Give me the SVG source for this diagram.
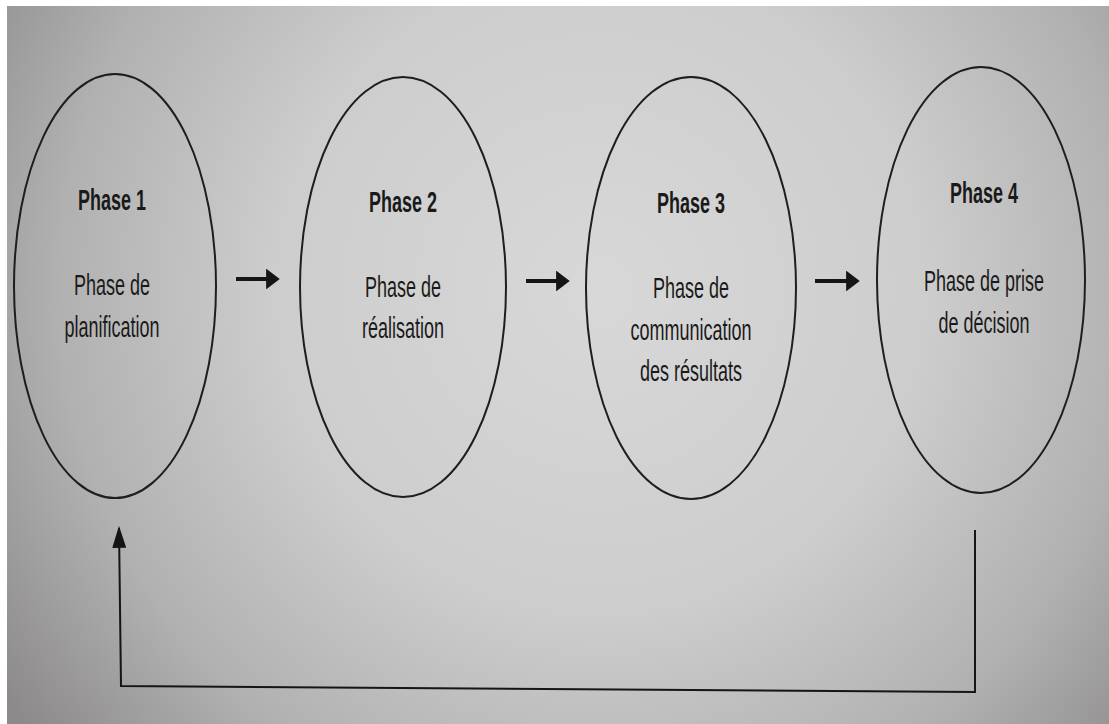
<svg xmlns="http://www.w3.org/2000/svg" width="1109" height="724" viewBox="0 0 1109 724">
  <defs>
    <radialGradient id="bg" gradientUnits="userSpaceOnUse" cx="600" cy="290" r="720">
      <stop offset="0" stop-color="#d8d8d8"/>
      <stop offset="0.45" stop-color="#cdcdcd"/>
      <stop offset="0.75" stop-color="#b2b1b1"/>
      <stop offset="1" stop-color="#8c8a8a"/>
    </radialGradient>
    <marker id="head" viewBox="0 0 10 10" refX="8" refY="5" markerWidth="3.4" markerHeight="5.2" orient="auto" markerUnits="strokeWidth" preserveAspectRatio="none">
      <path d="M0,0 L10,5 L0,10 Z" fill="#151515"/>
    </marker>
    <marker id="headUp" viewBox="0 0 10 10" refX="9" refY="5" markerWidth="11" markerHeight="7" orient="auto" markerUnits="strokeWidth" preserveAspectRatio="none">
      <path d="M0,0 L10,5 L0,10 Z" fill="#151515"/>
    </marker>
  </defs>
  <style>
    .node ellipse { fill: none; stroke: #1e1e1e; stroke-width: 2; }
    .t { font-family: "Liberation Sans", Arial, sans-serif; font-size: 30px; fill: #1a1a1a; text-anchor: middle; }
    .b { font-weight: bold; }
    .conn { fill: none; stroke: #151515; }
  </style>
  <rect x="0" y="0" width="1109" height="724" fill="#ffffff"/>
  <rect x="7" y="6" width="1102" height="718" fill="url(#bg)"/>

  <g id="phase1" class="node">
    <ellipse cx="115" cy="286" rx="101" ry="212"/>
    <g transform="translate(112,0) scale(0.6,1)">
      <text class="t b" x="0" y="210">Phase 1</text>
      <text class="t" x="0" y="295">Phase de</text>
      <text class="t" x="0" y="337">planification</text>
    </g>
  </g>

  <g id="phase2" class="node">
    <ellipse cx="403" cy="287" rx="103" ry="210"/>
    <g transform="translate(403,0) scale(0.6,1)">
      <text class="t b" x="0" y="212">Phase 2</text>
      <text class="t" x="0" y="297">Phase de</text>
      <text class="t" x="0" y="338">réalisation</text>
    </g>
  </g>

  <g id="phase3" class="node">
    <ellipse cx="691" cy="288" rx="105" ry="211"/>
    <g transform="translate(691,0) scale(0.6,1)">
      <text class="t b" x="0" y="213">Phase 3</text>
      <text class="t" x="0" y="298">Phase de</text>
      <text class="t" x="0" y="340">communication</text>
      <text class="t" x="0" y="381">des résultats</text>
    </g>
  </g>

  <g id="phase4" class="node">
    <ellipse cx="981" cy="280" rx="104" ry="213"/>
    <g transform="translate(984,0) scale(0.6,1)">
      <text class="t b" x="0" y="203">Phase 4</text>
      <text class="t" x="0" y="291">Phase de prise</text>
      <text class="t" x="0" y="333">de décision</text>
    </g>
  </g>

  <g id="connectors">
    <line class="conn" x1="236" y1="279" x2="277" y2="279" stroke-width="4" marker-end="url(#head)"/>
    <line class="conn" x1="526" y1="281" x2="567" y2="281" stroke-width="4" marker-end="url(#head)"/>
    <line class="conn" x1="815" y1="281" x2="857" y2="281" stroke-width="4" marker-end="url(#head)"/>
    <polyline class="conn" points="975,530 975,692 121,686 119,528" stroke-width="2" marker-end="url(#headUp)"/>
  </g>
</svg>
